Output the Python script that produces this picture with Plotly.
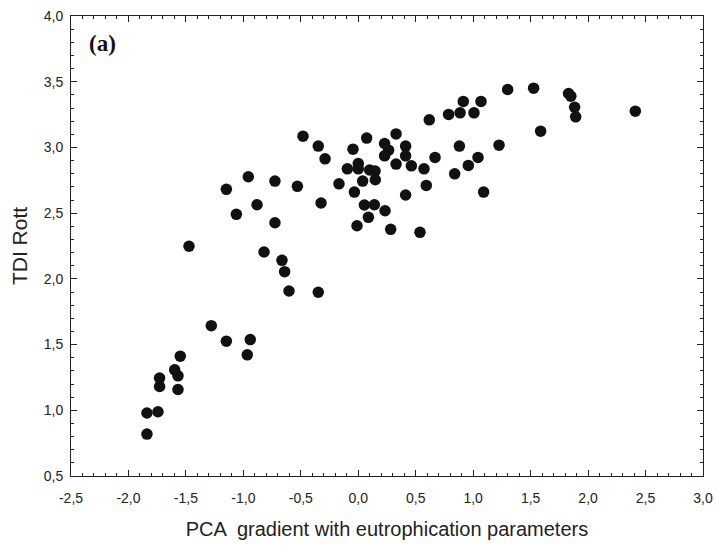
import plotly.graph_objects as go

# Data
pca_gradient = [
    -1.839, -1.839, -1.743, -1.729, -1.729, -1.569, -1.569, -1.598, -1.549, -1.279,
    -1.148, -0.940, -0.966, -0.603, -0.348, -0.641, -0.664, -0.820, -1.473, -0.725,
    -1.061, -0.881, -0.324, -1.148, -0.530, -0.725, -0.957, -0.168, -0.289, -0.348,
    -0.481, 0.073, 0.329, 0.618, 0.786, -0.046, 0.229, 0.412, 0.264, 0.229,
    0.412, 0.668, 0.880, 0.000, 0.000, -0.095, 0.099, 0.146, 0.329, 0.462,
    0.572, 0.839, 0.038, 0.148, -0.034, 0.592, 0.412, 0.053, 0.140, 0.233,
    0.088, -0.011, 0.282, 0.537, 0.886, 0.914, 1.007, 1.068, 1.300, 1.526,
    1.830, 1.850, 1.883, 1.892, 2.411, 1.587, 1.225, 1.042, 0.958, 1.091,
]
tdi_rott = [
    0.819, 0.979, 0.989, 1.181, 1.245, 1.158, 1.262, 1.308, 1.412, 1.644,
    1.526, 1.538, 1.422, 1.908, 1.898, 2.055, 2.141, 2.204, 2.248, 2.427,
    2.491, 2.564, 2.577, 2.681, 2.704, 2.744, 2.777, 2.723, 2.913, 3.010,
    3.086, 3.071, 3.103, 3.210, 3.251, 2.987, 3.030, 3.010, 2.979, 2.936,
    2.936, 2.924, 3.010, 2.878, 2.837, 2.837, 2.828, 2.820, 2.873, 2.860,
    2.837, 2.799, 2.744, 2.754, 2.660, 2.711, 2.638, 2.562, 2.564, 2.518,
    2.468, 2.404, 2.377, 2.354, 3.263, 3.350, 3.263, 3.350, 3.441, 3.451,
    3.410, 3.390, 3.306, 3.233, 3.276, 3.124, 3.017, 2.924, 2.863, 2.660,
]

x_tickvals = [-2.5, -2.0, -1.5, -1.0, -0.5, 0.0, 0.5, 1.0, 1.5, 2.0, 2.5, 3.0]
x_ticktext = ["-2,5", "-2,0", "-1,5", "-1,0", "-0,5", "0,0", "0,5", "1,0", "1,5", "2,0", "2,5", "3,0"]
y_tickvals = [0.5, 1.0, 1.5, 2.0, 2.5, 3.0, 3.5, 4.0]
y_ticktext = ["0,5", "1,0", "1,5", "2,0", "2,5", "3,0", "3,5", "4,0"]

panel_label = "(a)"
x_title = "PCA  gradient with eutrophication parameters"
y_title = "TDI Rott"

fig = go.Figure()
fig.add_trace(go.Scatter(
    x=pca_gradient, y=tdi_rott, mode="markers",
    marker=dict(size=11.5, color="#111111", line=dict(width=0)),
    showlegend=False, hoverinfo="x+y",
))

axis_common = dict(
    showgrid=False, zeroline=False, automargin=False,
    showline=True, linecolor="#222222", linewidth=1, mirror="allticks",
    ticks="inside", ticklen=6, tickwidth=1, tickcolor="#222222",
    tickfont=dict(family="Liberation Sans, Arial, sans-serif", size=14, color="#222222"),
    minor=dict(ticks="inside", ticklen=3, tickwidth=1, tickcolor="#222222", dtick=0.1, showgrid=False),
)

fig.update_xaxes(
    range=[-2.5, 3.0], tickmode="array", tickvals=x_tickvals, ticktext=x_ticktext,
    ticklabelstandoff=9,
    title=dict(text=x_title, standoff=17,
               font=dict(family="Liberation Sans, Arial, sans-serif", size=20, color="#222222")),
    **axis_common,
)
fig.update_yaxes(
    range=[0.5, 4.0], tickmode="array", tickvals=y_tickvals, ticktext=y_ticktext,
    ticklabelstandoff=4,
    title=dict(text=y_title, standoff=10,
               font=dict(family="Liberation Sans, Arial, sans-serif", size=21, color="#222222")),
    **axis_common,
)

fig.add_annotation(
    text="<b>%s</b>" % panel_label, xref="paper", yref="paper",
    x=0.026, y=0.94, xanchor="left", yanchor="middle", showarrow=False,
    font=dict(family="Liberation Serif, Times New Roman, serif", size=23, color="#111111"),
)

fig.update_layout(
    width=716, height=547,
    margin=dict(l=71, r=13, t=16, b=71, autoexpand=False),
    paper_bgcolor="white", plot_bgcolor="white",
)

fig.write_html("out.html")
